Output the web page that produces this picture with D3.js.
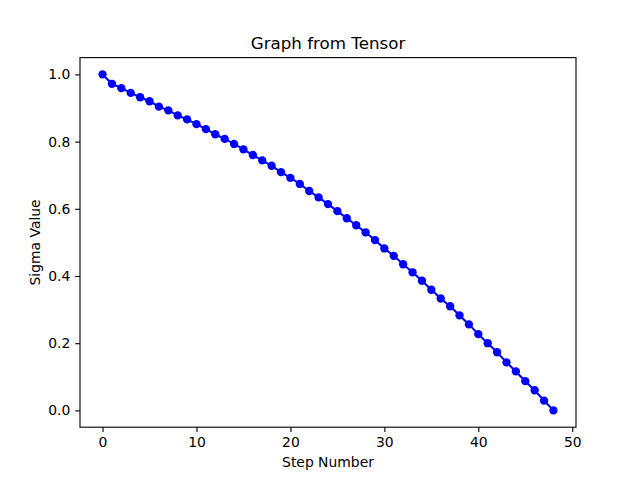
<!DOCTYPE html>
<html><head><meta charset="utf-8">
<script src="https://cdn.jsdelivr.net/npm/d3@7"></script>
<style>body{margin:0;background:#fff}svg{display:block}text{font-family:"DejaVu Sans",sans-serif}</style>
</head><body>
<svg id="c" width="640" height="480"></svg>
<script>
const steps = d3.range(0, 49);
const sigma = [1.000,0.972,0.959,0.945,0.932,0.920,0.904,0.893,0.878,0.866,
0.852,0.837,0.822,0.808,0.793,0.777,0.760,0.744,0.728,0.709,
0.692,0.674,0.653,0.634,0.614,0.593,0.572,0.551,0.530,0.507,
0.482,0.460,0.435,0.411,0.386,0.359,0.333,0.310,0.283,0.256,
0.227,0.200,0.173,0.143,0.116,0.087,0.060,0.029,0.000];
const xTicks = [0,10,20,30,40,50];
const yTicks = [0.0,0.2,0.4,0.6,0.8,1.0];
const title = "Graph from Tensor", xLabel = "Step Number", yLabel = "Sigma Value";

const L=80,R=576,T=57.6,B=427.2;
const svg=d3.select("#c");
const x=d3.scaleLinear().domain([-2.4,50.4]).range([L,R]);
const y=d3.scaleLinear().domain([-0.05,1.05]).range([B,T]);
const data=steps.map((s,i)=>({s,v:sigma[i]}));

svg.append("path").datum(data)
 .attr("fill","none").attr("stroke","#0000ff").attr("stroke-width",2.08)
 .attr("d",d3.line().x(d=>x(d.s)).y(d=>y(d.v)));
svg.selectAll("circle").data(data).join("circle")
 .attr("cx",d=>x(d.s)).attr("cy",d=>y(d.v)).attr("r",4.17).attr("fill","#0000ff");

const xa=svg.append("g").attr("transform",`translate(0,${B})`)
 .call(d3.axisBottom(x).tickValues(xTicks).tickFormat(d3.format("d")).tickSize(4.86).tickPadding(4.86).tickSizeOuter(0));
const ya=svg.append("g").attr("transform",`translate(${L},0)`)
 .call(d3.axisLeft(y).tickValues(yTicks).tickFormat(d3.format(".1f")).tickSize(4.86).tickPadding(4.86).tickSizeOuter(0));
[xa,ya].forEach(a=>{a.select(".domain").remove();
 a.selectAll("line").attr("stroke","#000").attr("stroke-width",1.11);
 a.selectAll("text").attr("font-size","13.9px").attr("fill","#000").attr("font-family","DejaVu Sans");});

svg.append("rect").attr("x",L).attr("y",T).attr("width",R-L).attr("height",B-T)
 .attr("fill","none").attr("stroke","#000").attr("stroke-width",1.11);

svg.append("text").attr("x",(L+R)/2).attr("y",T-8.3).attr("text-anchor","middle")
 .attr("font-size","16.7px").text(title);
svg.append("text").attr("x",(L+R)/2).attr("y",467).attr("text-anchor","middle")
 .attr("font-size","13.9px").text(xLabel);
svg.append("text").attr("transform",`translate(40,${(T+B)/2}) rotate(-90)`).attr("text-anchor","middle")
 .attr("font-size","13.9px").text(yLabel);
</script>
</body></html>
